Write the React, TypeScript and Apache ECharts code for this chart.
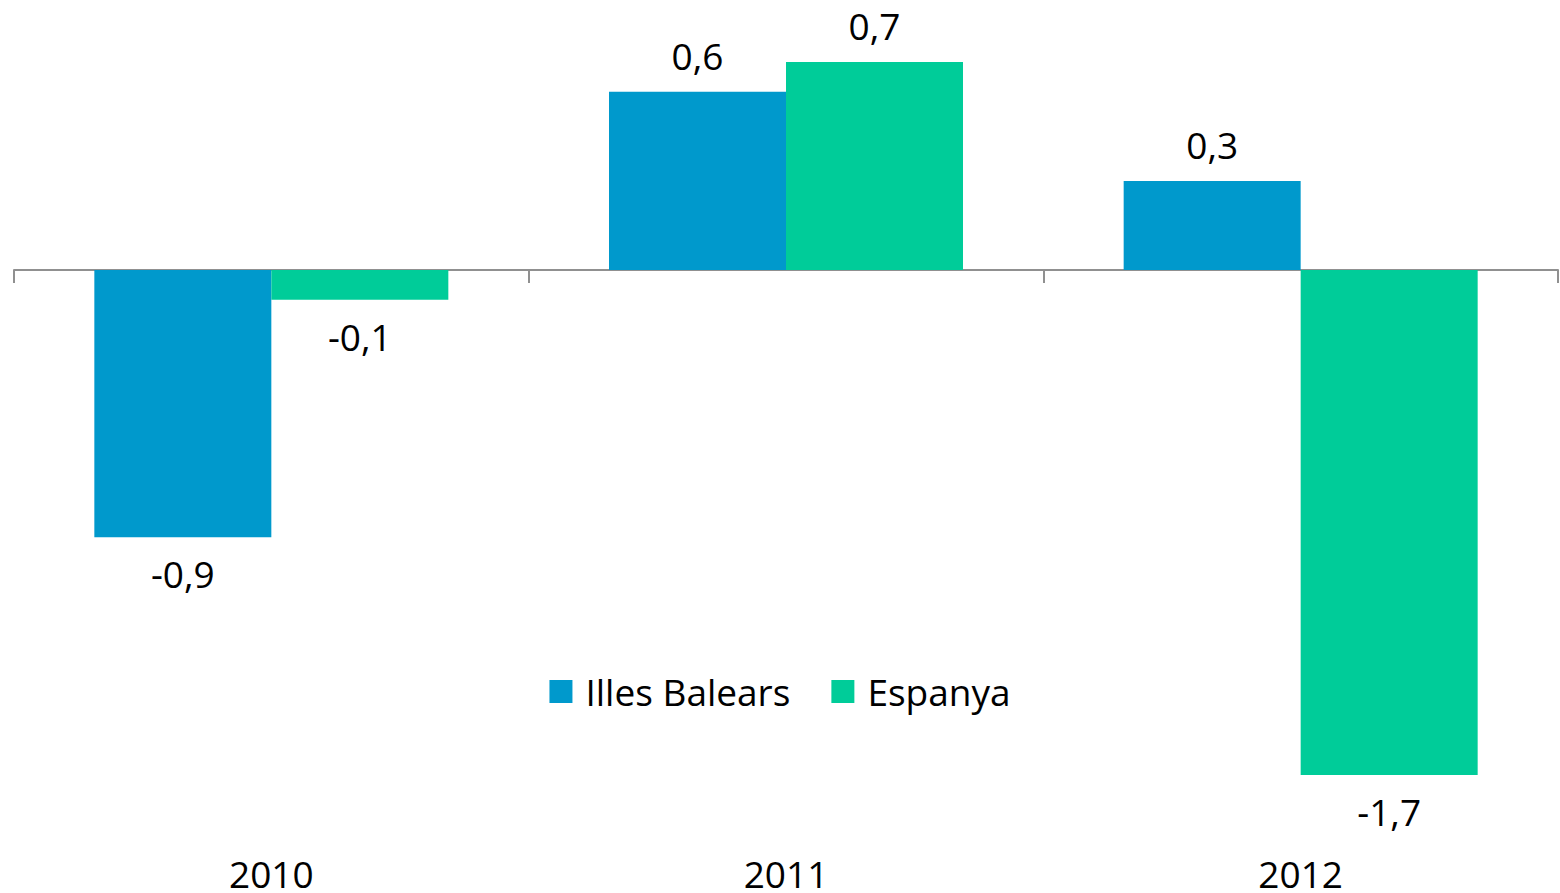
import React, { useEffect, useRef } from "react";
import * as echarts from "echarts";

const categories = ["2010", "2011", "2012"];
const illesBalears = [-0.9, 0.6, 0.3];
const espanya = [-0.1, 0.7, -1.7];

const FONT = "'Open Sans', Lato, sans-serif";

function fmt(v: number) {
  return v.toFixed(1).replace(".", ",");
}

function toData(values: number[]) {
  return values.map((v) => ({
    value: v,
    label: { position: v >= 0 ? "top" : "bottom" },
  }));
}

export default function App() {
  const ref = useRef<HTMLDivElement>(null);
  useEffect(() => {
    if (!ref.current) return;
    const chart = echarts.init(ref.current, undefined, { renderer: "svg" });
    const label = {
      show: true,
      distance: 18,
      fontSize: 37,
      fontFamily: FONT,
      color: "#000",
      formatter: (p: any) => fmt(p.value),
    };
    chart.setOption({
      animation: false,
      backgroundColor: "#fff",
      grid: { left: 14, right: 2, top: 2.7, bottom: 43.85 },
      legend: {
        data: ["Illes Balears", "Espanya"],
        left: "center",
        top: 668,
        icon: "rect",
        itemWidth: 23,
        itemHeight: 23,
        itemGap: 41,
        textStyle: {
          fontSize: 37,
          fontFamily: FONT,
          color: "#000",
          padding: [0, 0, 0, 8],
        },
      },
      xAxis: [
        {
          type: "category",
          data: categories,
          position: "bottom",
          axisLine: { show: false, onZero: false },
          axisTick: { show: false },
          axisLabel: { fontSize: 37, fontFamily: FONT, color: "#000", margin: 6 },
        },
        {
          type: "category",
          data: categories,
          position: "bottom",
          axisLine: { show: true, onZero: true, lineStyle: { color: "#909090", width: 2 } },
          axisTick: { show: true, length: 13, lineStyle: { color: "#909090", width: 2 } },
          axisLabel: { show: false },
        },
      ],
      yAxis: {
        type: "value",
        min: -1.95,
        max: 0.9,
        show: false,
        splitLine: { show: false },
      },
      series: [
        {
          name: "Illes Balears",
          type: "bar",
          xAxisIndex: 0,
          data: toData(illesBalears),
          barWidth: 177,
          barGap: "0%",
          itemStyle: { color: "#0099CC" },
          label,
        },
        {
          name: "Espanya",
          type: "bar",
          xAxisIndex: 0,
          data: toData(espanya),
          barWidth: 177,
          barGap: "0%",
          itemStyle: { color: "#00CC99" },
          label,
        },
      ],
    });
    return () => chart.dispose();
  }, []);
  return (
    <div
      ref={ref}
      style={{ position: "fixed", left: 0, top: 0, width: 1560, height: 893 }}
    />
  );
}
